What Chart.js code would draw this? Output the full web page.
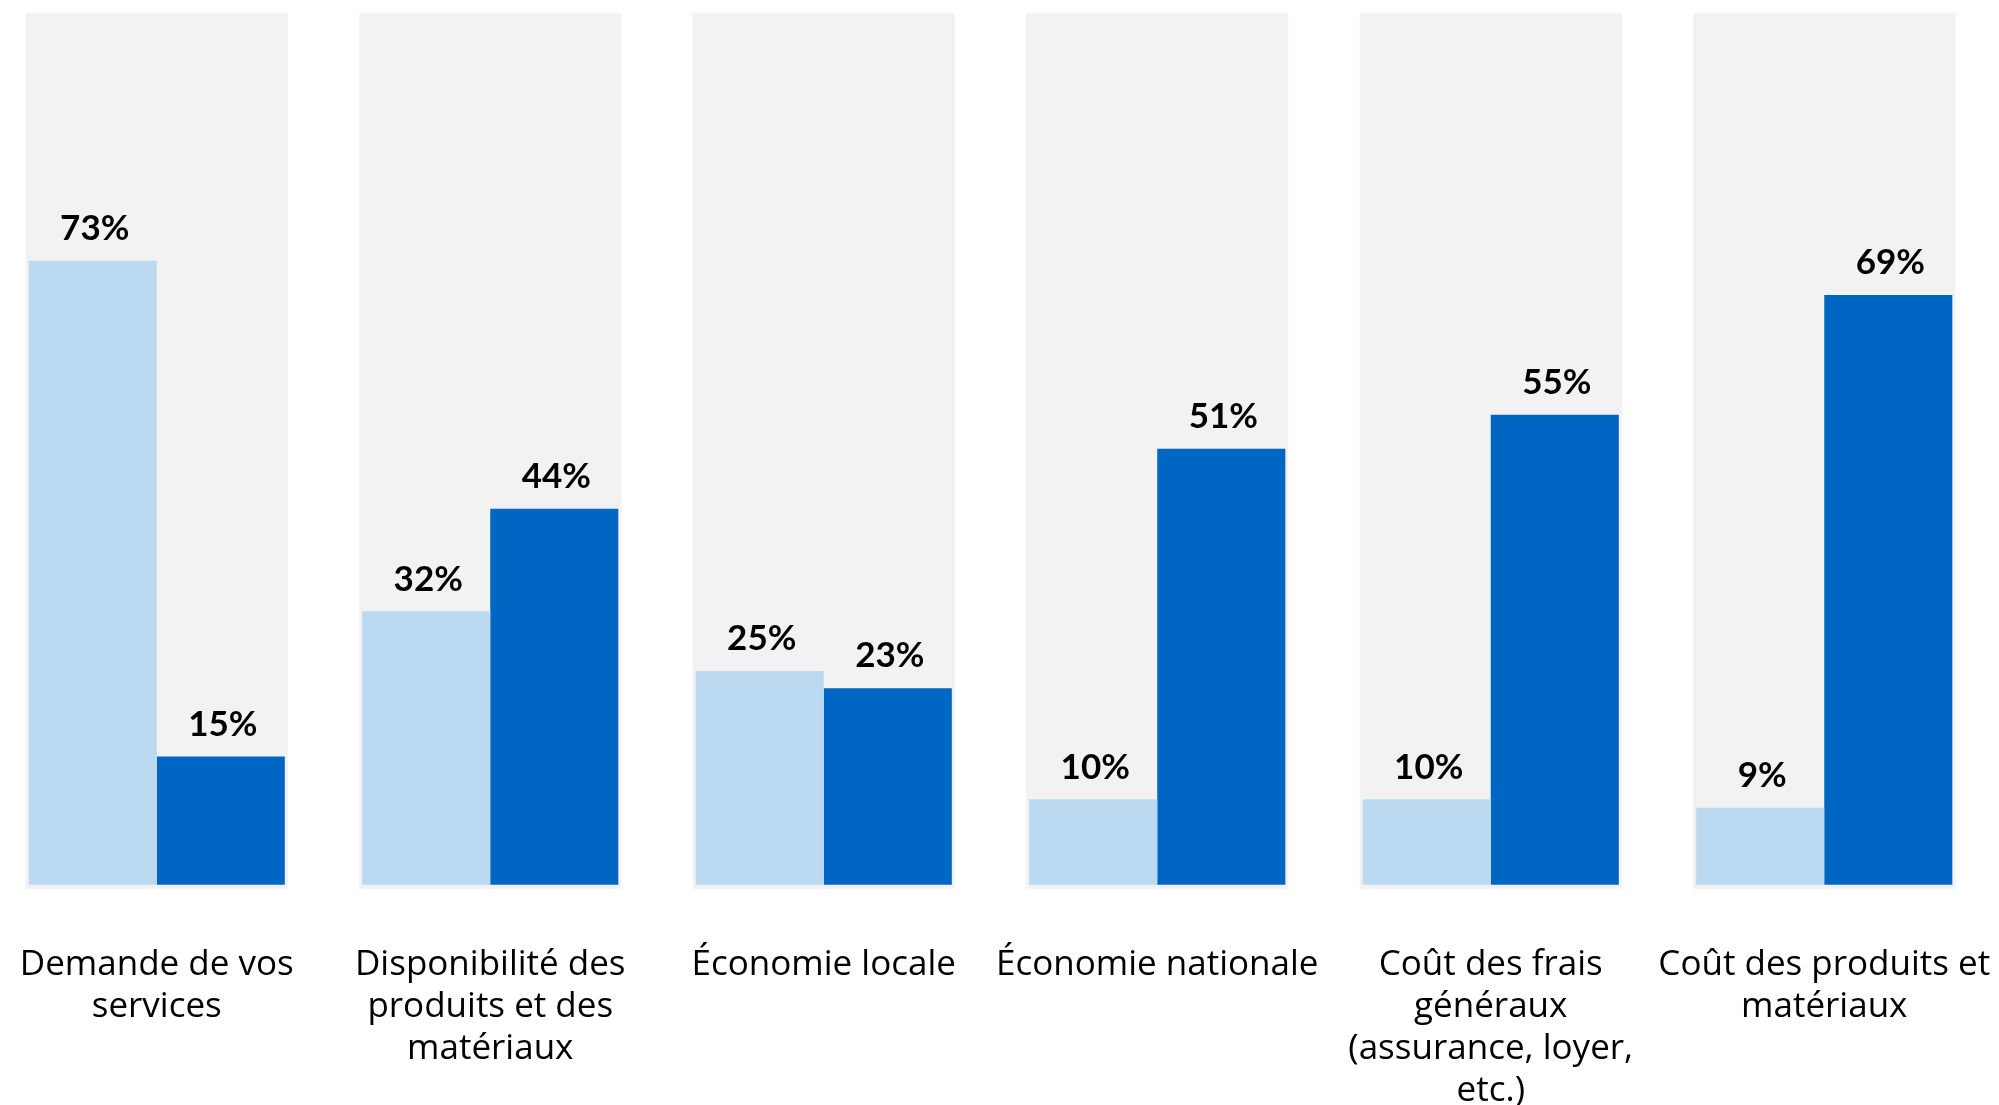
<!DOCTYPE html>
<html>
<head>
<meta charset="utf-8">
<script src="https://cdn.jsdelivr.net/npm/chart.js@4.4.0/dist/chart.umd.min.js"></script>
<style>
  html, body { margin: 0; padding: 0; background: #ffffff; overflow: hidden; }
  #wrap { position: absolute; left: -10px; top: 0; width: 2001px; height: 1105px; }
</style>
</head>
<body>
<div id="wrap"><canvas id="grafica"></canvas></div>
<script>
// categories (multi-line labels as in the picture)
const categorias = [
    ["Demande de vos", "services"],
    ["Disponibilité des", "produits et des", "matériaux"],
    ["Économie locale"],
    ["Économie nationale"],
    ["Coût des frais", "généraux", "(assurance, loyer,", "etc.)"],
    ["Coût des produits et", "matériaux"]
];
const serieClaire = [73, 32, 25, 10, 10, 9];
const serieFoncee = [15, 44, 23, 51, 55, 69];
const fond = [[-0.5, 102], [-0.5, 102], [-0.5, 102], [-0.5, 102], [-0.5, 102], [-0.5, 102]];

// draws the "xx%" text above each coloured bar
const etiquettes = {
    id: 'etiquettes',
    afterDatasetsDraw(chart) {
        const ctx = chart.ctx;
        ctx.save();
        ctx.font = "bold 35px Lato";
        ctx.fillStyle = "#000000";
        ctx.textAlign = "center";
        ctx.textBaseline = "middle";
        [0, 1].forEach(function(i) {
            const meta = chart.getDatasetMeta(i);
            meta.data.forEach(function(bar, j) {
                const v = chart.data.datasets[i].data[j];
                ctx.fillText(v + "%", bar.x + 2, bar.y - 32);
            });
        });
        ctx.restore();
    }
};

var ctx = document.getElementById('grafica').getContext('2d');
var chart = new Chart(ctx, {
    type: 'bar',
    data: {
        labels: categorias,
        datasets: [
            {
                label: 'Série 1',
                data: serieClaire,
                backgroundColor: '#bbdaf2',
                categoryPercentage: 0.768,
                barPercentage: 1.0,
                order: 1
            },
            {
                label: 'Série 2',
                data: serieFoncee,
                backgroundColor: '#0066c3',
                categoryPercentage: 0.768,
                barPercentage: 1.0,
                order: 1
            },
            {
                label: 'fond',
                data: fond,
                backgroundColor: '#f2f2f2',
                grouped: false,
                categoryPercentage: 0.786,
                barPercentage: 1.0,
                order: 2
            }
        ]
    },
    options: {
        animation: false,
        responsive: true,
        maintainAspectRatio: false,
        layout: { padding: { top: 13, left: 0, right: 0, bottom: 0 } },
        plugins: {
            legend: { display: false },
            tooltip: { enabled: false },
            title: { display: false }
        },
        scales: {
            x: {
                grid: {
                    display: true,
                    color: 'rgba(0,0,0,0)',
                    drawOnChartArea: false,
                    drawTicks: true,
                    tickLength: 55
                },
                border: { display: false },
                ticks: {
                    padding: 0,
                    maxRotation: 0,
                    autoSkip: false,
                    color: '#000000',
                    font: { family: 'Open Sans', size: 35, lineHeight: 1.2 }
                },
                afterFit: function(scale) { scale.height = 216; }
            },
            y: {
                display: false,
                min: -0.5,
                max: 102
            }
        }
    },
    plugins: [etiquettes]
});
</script>
</body>
</html>
